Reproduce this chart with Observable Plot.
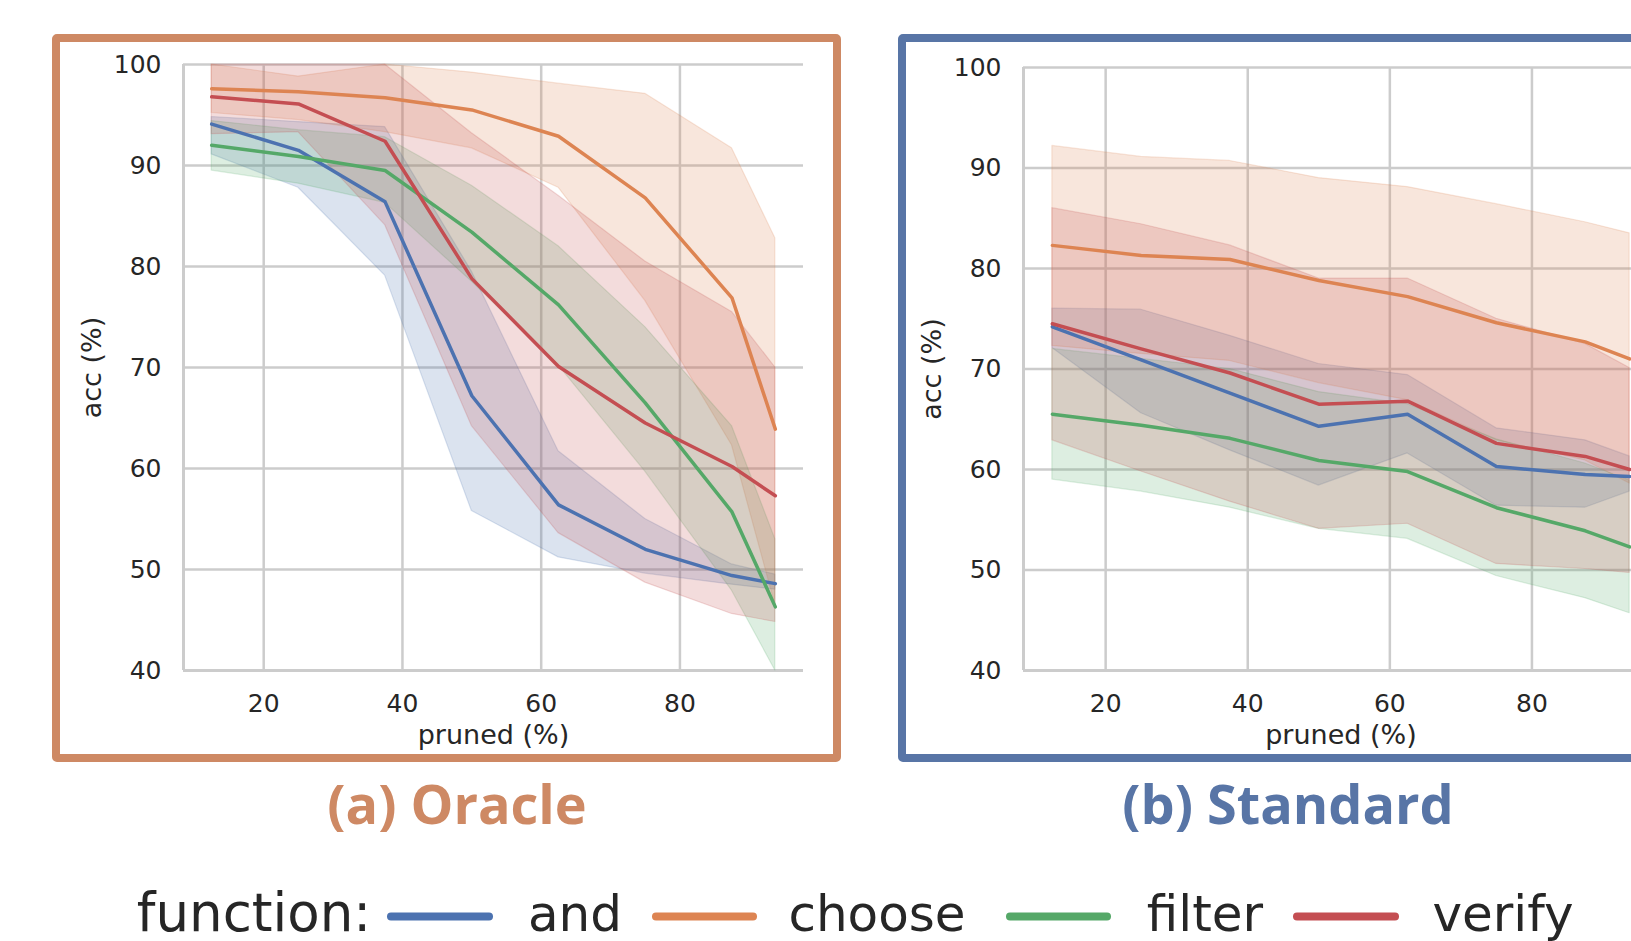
<!DOCTYPE html>
<html>
<head>
<meta charset="utf-8">
<script src="https://cdn.jsdelivr.net/npm/d3@7"></script>
<script src="https://cdn.jsdelivr.net/npm/@observablehq/plot@0.6"></script>
<style>
  html, body { margin: 0; padding: 0; width: 1631px; height: 941px; overflow: hidden; background: #ffffff; }
  .frame { position: absolute; box-sizing: border-box; border-width: 8px; border-style: solid; border-radius: 5px; }
  .panel { position: absolute; }
  .panel svg { max-width: none !important; }
  .title { position: absolute; font-family: "Open Sans", sans-serif; font-weight: 700; font-size: 54px; line-height: 1; white-space: nowrap; transform: translateX(-50%); }
  #legend { position: absolute; left: 0; top: 0; }
</style>
</head>
<body>
<div class="frame" style="left:52px; top:34px; width:789px; height:728px; border-color:#CE8964;"></div>
<div class="frame" style="left:898px; top:34px; width:789px; height:728px; border-color:#5875A6;"></div>
<div id="oracle" class="panel" style="left:61px; top:42px; width:772px; height:712px;"></div>
<div id="standard" class="panel" style="left:907px; top:42px; width:800px; height:712px;"></div>
<div class="title" style="left:457px; top:776px; color:#CE8964;">(a) Oracle</div>
<div class="title" style="left:1288px; top:776px; color:#5875A6;">(b) Standard</div>
<div id="legend"></div>
<script>
// ---------- data ----------
const pruned = [12.5, 25, 37.5, 50, 62.5, 75, 87.5, 93.75];
const functions = ["and", "choose", "filter", "verify"];
const palette = ["#4C72B0", "#DD8452", "#55A868", "#C44E52"];
const xTicks = [20, 40, 60, 80];
const yTicks = [40, 50, 60, 70, 80, 90, 100];

// (a) Oracle
const oracleAnd      = [94.1, 91.5, 86.4, 67.2, 56.4, 52.0, 49.4, 48.6];
const oracleAndLo    = [91.1, 87.8, 79.1, 55.8, 51.2, 49.6, 48.5, 48.0];
const oracleAndHi    = [94.8, 94.3, 93.8, 79.5, 61.7, 55.0, 50.5, 49.5];
const oracleChoose   = [97.6, 97.3, 96.7, 95.5, 92.9, 86.8, 76.9, 63.9];
const oracleChooseLo = [95.2, 94.5, 93.3, 91.7, 87.8, 76.6, 62.3, 46.5];
const oracleChooseHi = [100, 98.8, 100, 99.2, 98.1, 97.1, 91.7, 82.8];
const oracleFilter   = [92.0, 90.9, 89.5, 83.4, 76.2, 66.5, 55.7, 46.3];
const oracleFilterLo = [89.5, 88.2, 86.3, 78.5, 70.2, 59.7, 47.9, 40.0];
const oracleFilterHi = [94.4, 93.5, 92.8, 88.0, 82.0, 74.0, 64.2, 53.0];
const oracleVerify   = [96.8, 96.1, 92.4, 78.8, 70.1, 64.5, 60.2, 57.3];
const oracleVerifyLo = [93.1, 93.3, 84.1, 64.2, 53.6, 48.7, 45.6, 44.8];
const oracleVerifyHi = [100, 100, 100, 93.2, 87.0, 80.5, 75.5, 70.0];

// (b) Standard
const standardAnd      = [74.2, 70.9, 67.6, 64.3, 65.5, 60.3, 59.5, 59.3];
const standardAndLo    = [72.1, 65.6, 61.9, 58.4, 61.6, 56.4, 56.2, 57.8];
const standardAndHi    = [76.0, 75.9, 73.3, 70.5, 69.4, 64.1, 62.9, 61.3];
const standardChoose   = [82.3, 81.3, 80.9, 78.8, 77.2, 74.6, 72.7, 71.0];
const standardChooseLo = [72.3, 71.5, 70.8, 68.6, 66.9, 62.9, 60.9, 58.6];
const standardChooseHi = [92.2, 91.1, 90.7, 89.0, 88.1, 86.4, 84.6, 83.5];
const standardFilter   = [65.5, 64.4, 63.1, 60.9, 59.8, 56.2, 53.9, 52.3];
const standardFilterLo = [59.0, 57.8, 56.2, 54.1, 53.1, 49.4, 47.2, 45.7];
const standardFilterHi = [72.0, 71.0, 70.0, 67.7, 66.5, 63.0, 60.6, 58.9];
const standardVerify   = [74.5, 72.0, 69.6, 66.5, 66.8, 62.6, 61.3, 60.0];
const standardVerifyLo = [62.9, 59.8, 56.8, 54.1, 54.6, 50.6, 50.1, 49.7];
const standardVerifyHi = [86.0, 84.4, 82.3, 79.0, 79.0, 75.0, 72.5, 70.1];

// ---------- build ----------
function rows(name, mean, lo, hi) {
  return pruned.map((p, i) => ({function: name, pruned: p, mean: mean[i], lo: lo[i], hi: hi[i]}));
}
const oracleSeries = [
  rows("and", oracleAnd, oracleAndLo, oracleAndHi),
  rows("choose", oracleChoose, oracleChooseLo, oracleChooseHi),
  rows("filter", oracleFilter, oracleFilterLo, oracleFilterHi),
  rows("verify", oracleVerify, oracleVerifyLo, oracleVerifyHi)
];
const standardSeries = [
  rows("and", standardAnd, standardAndLo, standardAndHi),
  rows("choose", standardChoose, standardChooseLo, standardChooseHi),
  rows("filter", standardFilter, standardFilterLo, standardFilterHi),
  rows("verify", standardVerify, standardVerifyLo, standardVerifyHi)
];

const span = pruned[pruned.length - 1] - pruned[0];
const xDomain = [pruned[0] - 0.05 * span, pruned[pruned.length - 1] + 0.05 * span];
const gridColor = "#cccccc";
const ink = "#262626";

function panel(series, {width, height, marginLeft, marginRight, marginTop, marginBottom}) {
  const marks = [
    Plot.gridX(xTicks, {stroke: gridColor, strokeOpacity: 1, strokeWidth: 2.5}),
    Plot.gridY(yTicks, {stroke: gridColor, strokeOpacity: 1, strokeWidth: 2.5}),
    Plot.ruleX([xDomain[0]], {stroke: gridColor, strokeWidth: 3}),
    Plot.ruleY([40], {stroke: gridColor, strokeWidth: 3})
  ];
  // all confidence bands first, then all mean lines on top
  for (const s of series) {
    marks.push(Plot.areaY(s, {x: "pruned", y1: "lo", y2: "hi", fill: "function", fillOpacity: 0.2,
                              stroke: "function", strokeOpacity: 0.2, strokeWidth: 1.2}));
  }
  for (const s of series) {
    marks.push(Plot.line(s, {x: "pruned", y: "mean", stroke: "function", strokeWidth: 3.5}));
  }
  marks.push(
    Plot.axisX(xTicks, {tickSize: 0, tickPadding: 24, label: null, fontSize: 25, fill: ink}),
    Plot.axisY(yTicks, {tickSize: 0, tickPadding: 22, label: null, fontSize: 25, fill: ink}),
    Plot.text(["pruned (%)"], {frameAnchor: "bottom", lineAnchor: "middle", textAnchor: "middle", dy: 65, fontSize: 27, fill: ink}),
    Plot.text(["acc (%)"], {frameAnchor: "left", lineAnchor: "middle", textAnchor: "middle", dx: -91, rotate: -90, fontSize: 27, fill: ink})
  );
  return Plot.plot({
    width, height, marginLeft, marginRight, marginTop, marginBottom,
    x: {domain: xDomain},
    y: {domain: [40, 100]},
    color: {domain: functions, range: palette},
    style: {fontFamily: "DejaVu Sans", fontSize: "25px", color: ink, background: "transparent", overflow: "visible", maxWidth: "none"},
    marks
  });
}

document.getElementById("oracle").append(panel(oracleSeries, {
  width: 772, height: 712, marginLeft: 122, marginRight: 30, marginTop: 22, marginBottom: 84
}));
document.getElementById("standard").append(panel(standardSeries, {
  width: 800, height: 712, marginLeft: 116, marginRight: 49, marginTop: 25, marginBottom: 84
}));

// ---------- legend ----------
const legendTitle = "function:";
const legendSwatchX = [[391, 489], [656, 753], [1010, 1107], [1297, 1395]];
const legendLabelX = [575, 877, 1205, 1503];
const svg = d3.create("svg").attr("width", 1631).attr("height", 941)
  .style("font-family", "DejaVu Sans");
svg.append("text").attr("x", 254).attr("y", 931).attr("text-anchor", "middle")
  .attr("font-size", 53).attr("fill", ink).text(legendTitle);
functions.forEach((f, i) => {
  svg.append("line").attr("x1", legendSwatchX[i][0]).attr("x2", legendSwatchX[i][1])
    .attr("y1", 916.5).attr("y2", 916.5).attr("stroke", palette[i])
    .attr("stroke-width", 8).attr("stroke-linecap", "round");
  svg.append("text").attr("x", legendLabelX[i]).attr("y", 931).attr("text-anchor", "middle")
    .attr("font-size", 50).attr("fill", ink).text(f);
});
document.getElementById("legend").append(svg.node());
</script>
</body>
</html>
